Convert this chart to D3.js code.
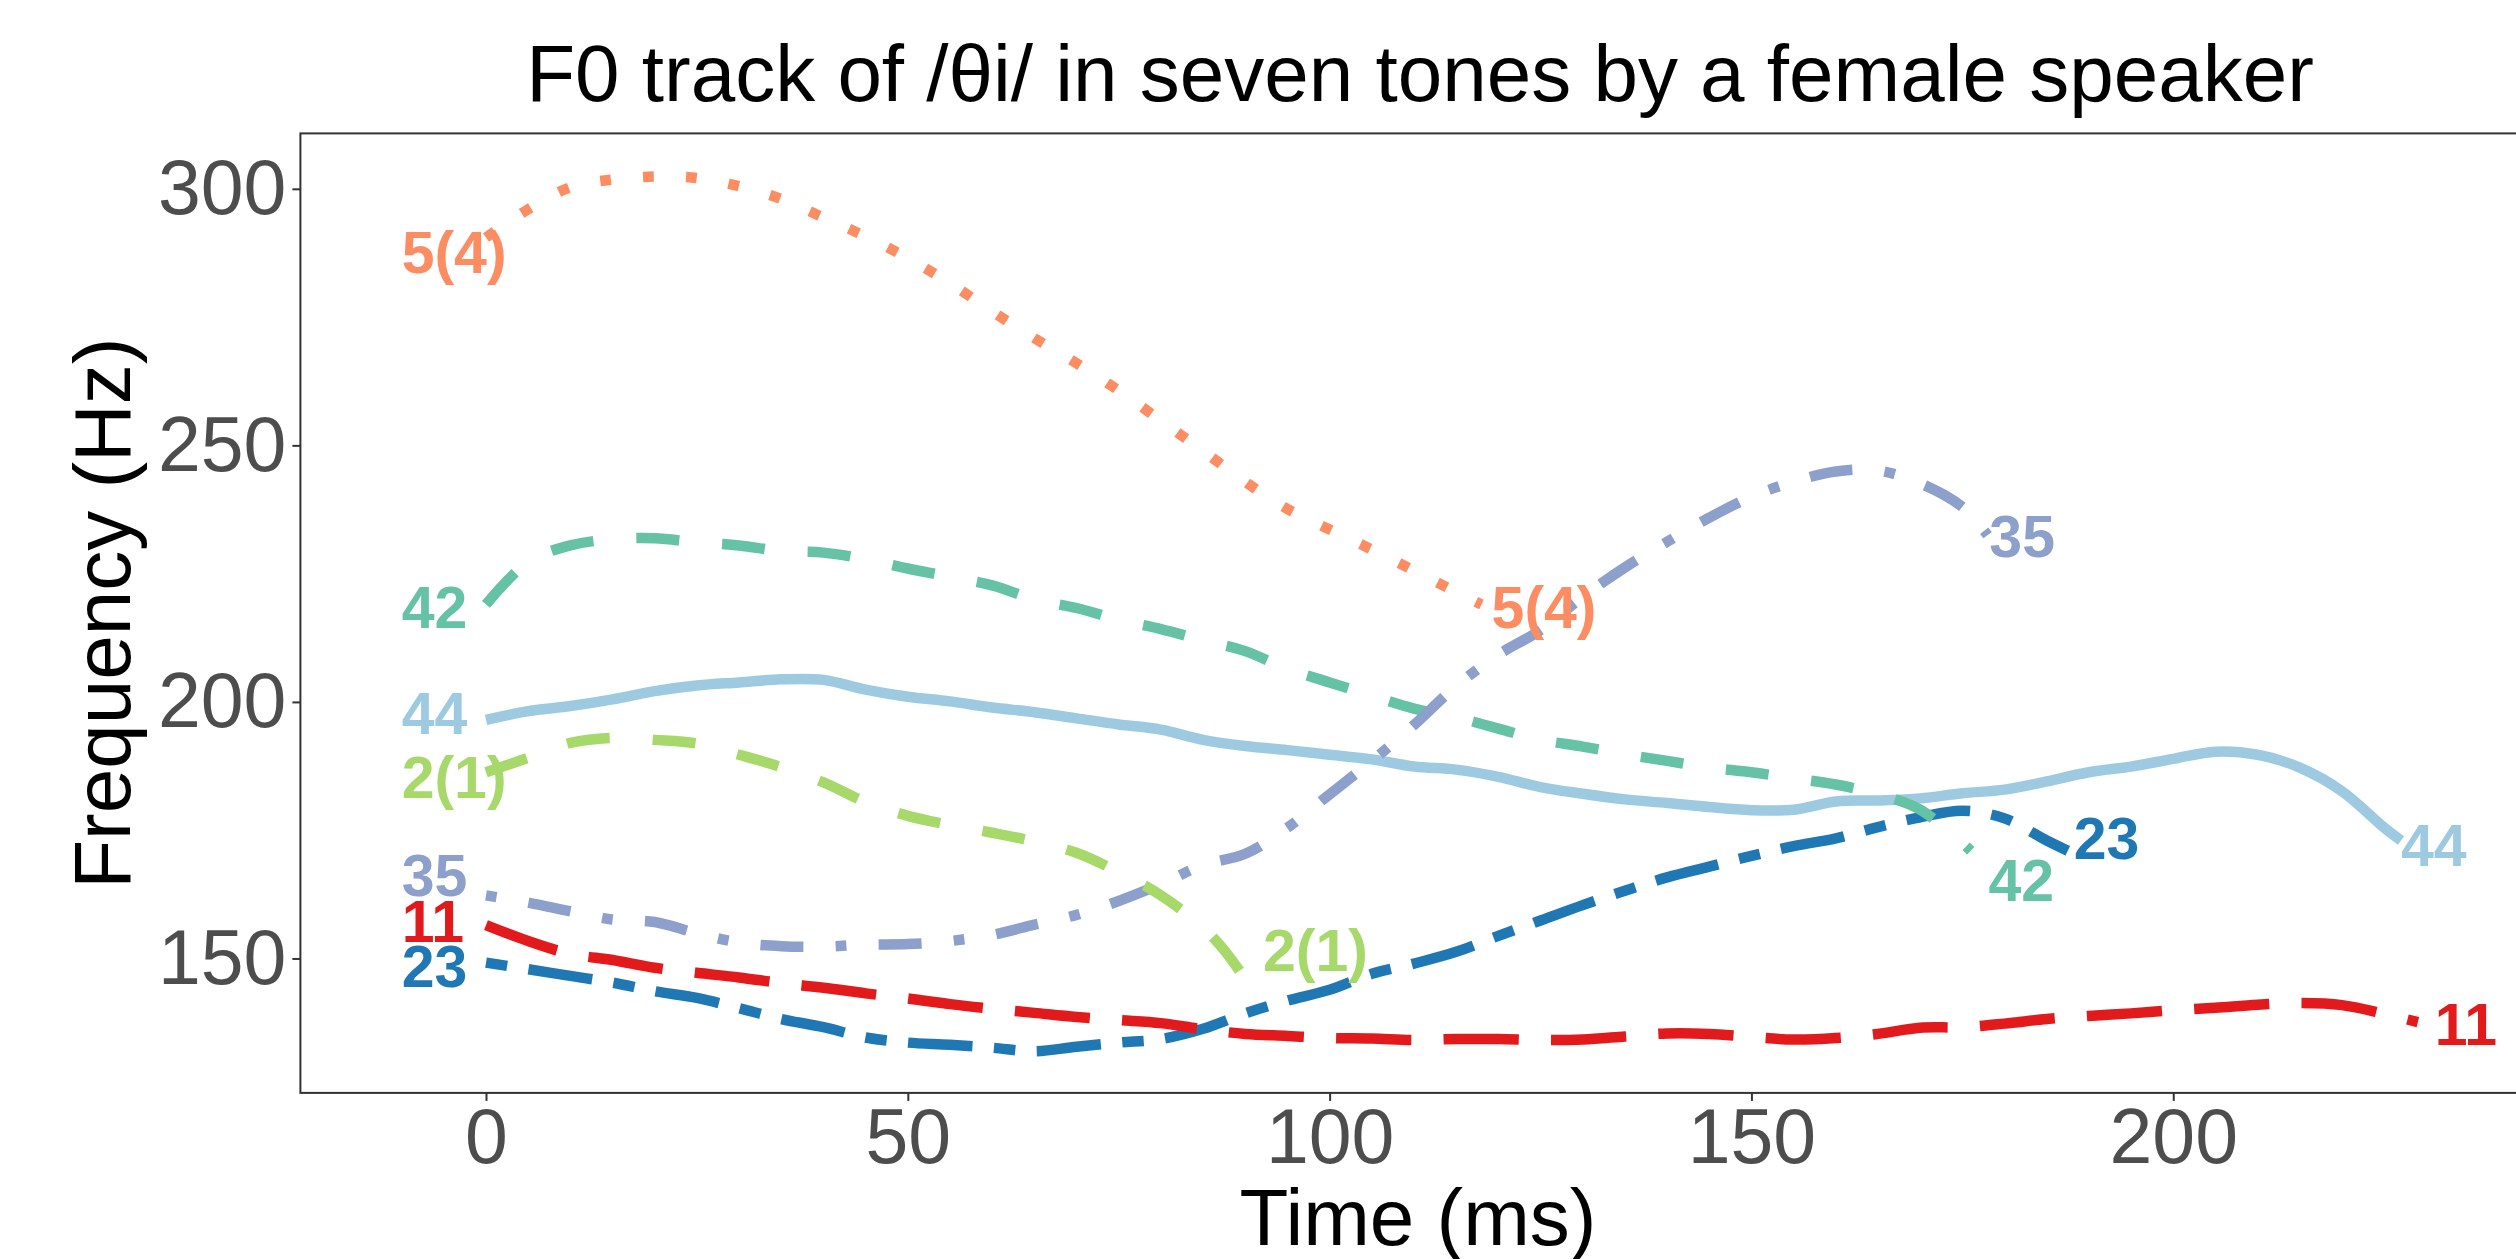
<!DOCTYPE html>
<html><head><meta charset="utf-8">
<script src="https://cdn.jsdelivr.net/npm/d3@7"></script>
<style>html,body{margin:0;padding:0;background:#fff;overflow:hidden}
text{font-family:"Liberation Sans",Arial,sans-serif}</style>
</head><body>
<svg id="chart" width="2516" height="1259"></svg>
<script>
// ---- data ----
const tones = ["11", "23", "35", "42", "44", "2(1)", "5(4)"];
const time11 = [0,5,10,15,20,25,30,35,40,45,50,55,60,65,70,75,80,85,90,95,100,105,110,115,120,125,130,135,140,145,150,155,160,165,170,175,180,185,190,195,200,205,210,215,220,225,229];
const hz11 = [156.5,153.4,150.9,149.7,148.2,147.2,146.3,145.2,144.3,143.2,142.2,141.1,140.2,139.4,138.6,138.0,137.4,136.2,135.3,134.9,134.5,134.4,134.1,134.3,134.3,134.1,134.2,134.8,135.4,135.3,134.7,134.2,134.5,135.3,136.5,136.6,137.3,138.2,138.8,139.3,139.9,140.4,141.0,141.3,140.9,139.2,137.6];
const time23 = [0,5,10,15,20,25,30,35,40,45,50,55,60,65,70,75,80,85,90,95,100,105,110,115,120,125,130,135,140,145,150,155,160,165,170,175,180,185,187.5];
const hz23 = [149.2,147.9,146.6,145.3,143.6,142.3,140.3,138.2,136.6,134.6,133.6,133.2,132.6,131.9,132.8,133.6,134.3,136.3,139.3,141.8,143.9,147.0,149.0,151.3,154.4,157.4,160.4,163.2,165.8,167.9,170.0,171.9,173.4,175.6,177.5,178.8,177.3,173.0,171.0];
const time35 = [0,5,10,15,20,25,30,35,40,45,50,55,60,65,70,75,80,85,90,95,100,105,110,115,120,125,130,135,140,145,150,155,160,165,170,175,178];
const hz35 = [162.3,160.9,159.2,157.6,157.1,154.9,153.1,152.4,152.3,152.7,152.8,153.4,154.6,156.6,158.5,161.2,164.5,168.2,170.4,175.5,182.0,188.5,195.5,203.1,209.2,214.0,220.5,226.2,231.2,235.9,240.0,242.9,244.9,245.1,242.6,238.0,232.5];
const time42 = [0,5,10,15,20,25,30,35,40,45,50,55,60,65,70,75,80,85,90,95,100,105,110,115,120,125,130,135,140,145,150,155,160,165,170,176];
const hz42 = [219.0,227.3,230.5,231.7,231.9,231.1,230.5,229.4,229.1,227.8,226.0,224.4,222.7,220.0,218.3,216.0,214.2,212.0,209.9,206.4,203.8,201.2,198.7,197.0,194.8,192.6,191.3,189.8,188.5,187.2,186.3,185.1,183.9,182.0,179.0,171.0];
const time44 = [0,5,10,15,20,25,30,35,40,45,50,55,60,65,70,75,80,85,90,95,100,105,110,115,120,125,130,135,140,145,150,155,160,165,170,175,180,185,190,195,200,205,210,215,220,225,227];
const hz44 = [196.5,198.2,199.2,200.5,202.1,203.2,203.8,204.4,204.3,202.4,201.0,200.1,198.9,198.0,196.8,195.6,194.6,192.6,191.4,190.6,189.7,188.8,187.4,186.8,185.4,183.4,182.1,181.0,180.3,179.5,178.9,179.0,180.6,180.8,181.2,182.2,182.9,184.5,186.3,187.4,188.9,190.3,189.7,187.2,182.6,175.5,173.0];
const time21 = [0,5,10,15,20,25,30,35,40,45,50,55,60,65,70,75,80,85,88,91];
const hz21 = [186.3,189.1,192.0,193.0,192.6,191.9,189.7,187.3,184.3,180.5,177.8,176.0,174.5,172.8,170.6,166.8,162.3,156.0,150.6,143.4];
const time54 = [0,5,10,15,20,25,30,35,40,45,50,55,60,65,70,75,80,85,90,95,100,105,110,115,118];
const hz54 = [290.5,296.0,300.3,301.8,302.4,302.1,300.5,298.0,294.4,290.7,286.5,281.6,276.1,270.9,266.0,260.7,254.8,248.9,242.9,237.6,233.6,229.7,225.6,221.4,219.0];

// label anchors (time in ms, frequency in Hz)
const leftLabelTime = -10;
const leftLabelHz  = [157.3, 148.5, 166.3, 218.6, 197.9, 185.4, 287.7];
const rightLabelTime = [231.0, 188.2, 178.2, 178.1, 227.0, 92.1, 119.2];
const rightLabelHz   = [137.3, 173.5, 232.3, 165.4, 172.2, 151.6, 218.6];

const xTicks = [0, 50, 100, 150, 200];
const yTicks = [150, 200, 250, 300];

// ---- styles ----
const colors = {"11":"#E31A1C","23":"#1F78B4","35":"#8DA0CB","42":"#66C2A5","44":"#9ECAE1","2(1)":"#A6D96A","5(4)":"#FC8D62"};
const u = 10.75;
const dashes = {
  "11": [7*u, 3*u], "23": [2*u, 2*u, 6*u, 2*u], "35": [u, 3*u, 4*u, 3*u],
  "42": [4*u, 4*u], "44": null, "2(1)": [4*u, 4*u], "5(4)": [u, 3*u]
};
const drawOrder = ["44", "23", "11", "42", "35", "2(1)", "5(4)"];

const series = {
  "11": d3.zip(time11, hz11), "23": d3.zip(time23, hz23), "35": d3.zip(time35, hz35),
  "42": d3.zip(time42, hz42), "44": d3.zip(time44, hz44), "2(1)": d3.zip(time21, hz21),
  "5(4)": d3.zip(time54, hz54)
};

const svg = d3.select("#chart");
const panel = {left: 300.4, top: 133.4, right: 2536, bottom: 1092.9};
const x = d3.scaleLinear().domain([-22, 243]).range([panel.left, panel.right]);
const y = d3.scaleLinear().domain([123.8, 310.8]).range([panel.bottom, panel.top]);

// title
svg.append("text").attr("x", 1420).attr("y", 101).attr("text-anchor", "middle")
  .attr("font-size", 80).attr("fill", "#000").text("F0 track of /θi/ in seven tones by a female speaker");

// panel border
svg.append("rect").attr("x", panel.left).attr("y", panel.top)
  .attr("width", panel.right - panel.left).attr("height", panel.bottom - panel.top)
  .attr("fill", "none").attr("stroke", "#333").attr("stroke-width", 2);

// axes
const xAxis = svg.append("g").attr("transform", `translate(0,${panel.bottom})`)
  .call(d3.axisBottom(x).tickValues(xTicks).tickSize(8).tickPadding(7).tickFormat(d3.format("d")));
const yAxis = svg.append("g").attr("transform", `translate(${panel.left},0)`)
  .call(d3.axisLeft(y).tickValues(yTicks).tickSize(8).tickPadding(6).tickFormat(d3.format("d")));
[xAxis, yAxis].forEach(g => {
  g.select(".domain").remove();
  g.selectAll(".tick line").attr("stroke", "#333").attr("stroke-width", 2);
  g.selectAll(".tick text").attr("fill", "#4D4D4D").attr("font-size", 77)
    .style("font-family", '"Liberation Sans",Arial,sans-serif');
});

// axis titles
svg.append("text").attr("x", 1418).attr("y", 1245).attr("text-anchor", "middle")
  .attr("font-size", 80).attr("fill", "#000").text("Time (ms)");
svg.append("text").attr("transform", `translate(129.5,${(panel.top + panel.bottom) / 2}) rotate(-90)`)
  .attr("text-anchor", "middle").attr("font-size", 80).attr("fill", "#000").text("Frequency (Hz)");

// lines
const line = d3.line().x(d => x(d[0])).y(d => y(d[1])).curve(d3.curveCatmullRom.alpha(0.5));
drawOrder.forEach(k => {
  const p = svg.append("path").datum(series[k]).attr("d", line)
    .attr("fill", "none").attr("stroke", colors[k]).attr("stroke-width", 10.5)
    .attr("stroke-linecap", "butt").attr("stroke-linejoin", "round");
  if (dashes[k]) p.attr("stroke-dasharray", dashes[k].join(","));
});

// labels
tones.forEach((k, i) => {
  svg.append("text").attr("x", x(leftLabelTime)).attr("y", y(leftLabelHz[i])).attr("dy", "0.36em")
    .attr("text-anchor", "start").attr("font-size", 59).attr("font-weight", "bold")
    .attr("fill", colors[k]).text(k);
  svg.append("text").attr("x", x(rightLabelTime[i])).attr("y", y(rightLabelHz[i])).attr("dy", "0.36em")
    .attr("text-anchor", "start").attr("font-size", 59).attr("font-weight", "bold")
    .attr("fill", colors[k]).text(k);
});
</script>
</body></html>
